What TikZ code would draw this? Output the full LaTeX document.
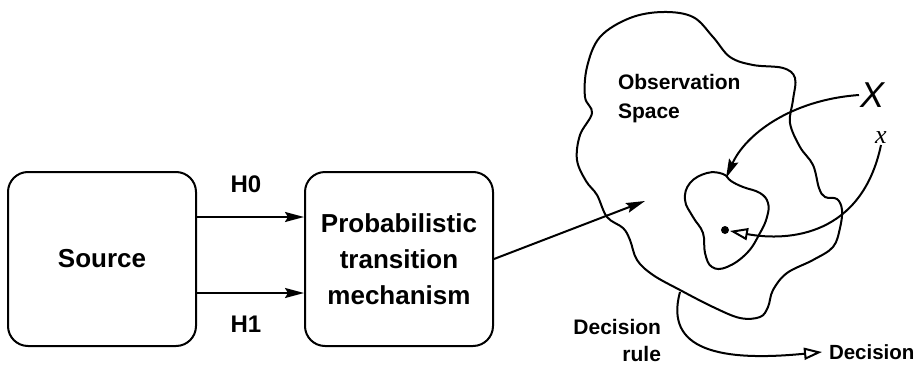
\documentclass[tikz,border=0pt]{standalone}
\usepackage{fontspec}
\setmainfont{Liberation Sans}
\newfontfamily\xserif{Liberation Serif}
\usetikzlibrary{arrows.meta}
\begin{document}
\begin{tikzpicture}[x=1pt,y=-1pt,line width=2pt,
  boxnode/.style={draw,rounded corners=20pt,minimum width=188pt,minimum height=174pt,align=center,
     font=\fontsize{26}{36}\selectfont\bfseries,inner sep=0pt},
  lbl/.style={font=\fontsize{24}{24}\selectfont\bfseries,inner sep=0pt},
  sp/.style={font=\fontsize{21}{29}\selectfont\bfseries,inner sep=0pt},
  fillarrow/.style={-{Stealth[length=19pt,width=10pt,inset=3pt]}},
  openarrow/.style={-{Triangle[open,length=18pt,width=12pt]}}]
\useasboundingbox (0,0) rectangle (916,367);
% boxes
\node[boxnode] (src) at (102,259) {Source};
\node[boxnode] (prob) at (399,259) {Probabilistic\\transition\\mechanism};
% H0 / H1 arrows
\draw[fillarrow] ([yshift=42pt]src.east) -- ([yshift=42pt]prob.west);
\draw[fillarrow] ([yshift=-34pt]src.east) -- ([yshift=-34pt]prob.west);
\node[lbl] (h0) at (246,184) {H0};
\node[lbl] (h1) at (246,324) {H1};
% observation space blob
\draw plot[smooth cycle,tension=0.6] coordinates {
 (585,97) (587,67) (600,37) (630,18) (663,12) (693,17) (713,37) (730,57) (753,65)
 (783,68) (795,78) (793,100) (790,123) (800,147) (813,165) (819,188) (825,197) (837,199)
 (842,210) (840,228) (833,247) (813,260) (787,273) (773,290) (768,307) (760,317)
 (740,318) (713,307) (680,290) (653,275) (637,260) (630,240) (623,228) (607,217)
 (597,195) (586,181) (577,160) (580,135) (592,113)};
% decision region blob
\draw plot[smooth cycle,tension=0.7] coordinates {
 (723,174) (707,173) (690,183) (685,200) (693,217) (703,233) (705,253) (712,267)
 (727,267) (747,253) (760,233) (767,217) (768,203) (760,193) (743,187) (731,181)};
\node[sp,anchor=west,align=left] (obs) at (617,98.5) {Observation\\Space};
% arrow into observation space
\coordinate (into) at (645,201);
\draw[fillarrow] (prob.east) -- (into);
% X and x
\node[font=\fontsize{36}{36}\selectfont\itshape,inner sep=0pt] (bigX) at (872,95) {X};
\node[font=\fontsize{26}{26}\selectfont\xserif\itshape,inner sep=0pt] (smallx) at (881,138) {x};
\coordinate (regtop) at (726,178);
\draw[fillarrow] (bigX.west) .. controls (790,100) and (745,135) .. (regtop);
\node[circle,fill,inner sep=0pt,minimum size=8pt] (dot) at (725,230) {};
\draw[openarrow] (smallx.south) .. controls (862,235) and (790,242) .. (dot);
% decision
\node[sp,anchor=east,align=right,font=\fontsize{21}{27}\selectfont\bfseries] (drule) at (662,340) {Decision\\rule};
\node[font=\fontsize{20.5}{20.5}\selectfont\bfseries,inner sep=0pt,anchor=west] (dec) at (828,352) {Decision};
\coordinate (rulestart) at (680,292);
\draw[openarrow] (rulestart) .. controls (664,350) and (720,362) .. ([xshift=-6pt]dec.west);
\end{tikzpicture}
\end{document}
